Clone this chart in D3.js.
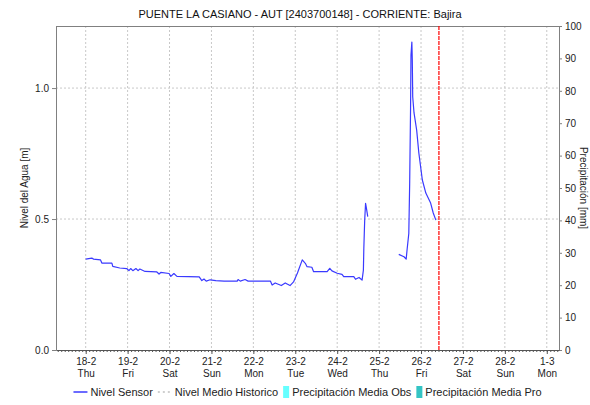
<!DOCTYPE html>
<html>
<head>
<meta charset="utf-8">
<script src="https://cdn.jsdelivr.net/npm/d3@7"></script>
<style>
  body { margin: 0; background: #fff; }
  text { font-family: "Liberation Sans", Arial, sans-serif; }
</style>
</head>
<body>
<div id="chart"></div>
<script>
// ---------------------------------------------------------------------------
// Data
// ---------------------------------------------------------------------------

const chartTitle = "PUENTE LA CASIANO - AUT [2403700148] - CORRIENTE: Bajira";

const times = [
  "2021-02-18 00:00", "2021-02-18 03:30", "2021-02-18 04:30", "2021-02-18 08:30",
  "2021-02-18 09:15", "2021-02-18 15:00", "2021-02-18 15:30", "2021-02-18 19:30",
  "2021-02-18 23:30", "2021-02-19 00:45", "2021-02-19 01:45", "2021-02-19 03:00",
  "2021-02-19 04:45", "2021-02-19 06:00", "2021-02-19 07:00", "2021-02-19 10:00",
  "2021-02-19 16:45", "2021-02-19 18:00", "2021-02-19 19:00", "2021-02-19 23:45",
  "2021-02-20 00:45", "2021-02-20 02:30", "2021-02-20 04:15", "2021-02-20 17:00",
  "2021-02-20 18:30", "2021-02-20 19:45", "2021-02-20 21:00", "2021-02-20 23:15",
  "2021-02-21 02:30", "2021-02-21 07:15", "2021-02-21 14:45", "2021-02-21 15:15",
  "2021-02-21 16:30", "2021-02-21 19:15", "2021-02-21 21:00", "2021-02-22 09:45",
  "2021-02-22 10:45", "2021-02-22 12:30", "2021-02-22 16:00", "2021-02-22 18:15",
  "2021-02-22 21:00", "2021-02-22 23:00", "2021-02-23 01:15", "2021-02-23 04:00",
  "2021-02-23 05:45", "2021-02-23 06:45", "2021-02-23 09:30", "2021-02-23 10:30",
  "2021-02-23 18:15", "2021-02-23 19:45", "2021-02-23 21:00", "2021-02-24 00:00",
  "2021-02-24 02:45", "2021-02-24 03:45", "2021-02-24 09:30", "2021-02-24 10:30",
  "2021-02-24 12:30", "2021-02-24 14:15", "2021-02-24 15:00", "2021-02-24 15:15",
  "2021-02-24 15:45", "2021-02-24 16:15", "2021-02-24 16:45", "2021-02-24 17:30",
  "2021-02-25 00:00",
  "2021-02-25 11:15", "2021-02-25 14:15", "2021-02-25 15:30", "2021-02-25 16:00",
  "2021-02-25 17:00", "2021-02-25 17:30", "2021-02-25 18:00", "2021-02-25 18:15",
  "2021-02-25 18:45", "2021-02-25 19:00", "2021-02-25 19:15", "2021-02-25 20:00",
  "2021-02-25 21:30", "2021-02-25 22:45", "2021-02-26 00:45", "2021-02-26 02:45",
  "2021-02-26 05:30", "2021-02-26 07:00", "2021-02-26 08:30"
];

// water level [m]; null = no reading (gap in the line)
const levels = [
  0.347, 0.351, 0.347, 0.344, 0.332, 0.332, 0.319, 0.313,
  0.311, 0.303, 0.311, 0.303, 0.311, 0.303, 0.309, 0.300,
  0.298, 0.290, 0.296, 0.292, 0.281, 0.292, 0.281, 0.279,
  0.265, 0.271, 0.263, 0.268, 0.265, 0.263, 0.263, 0.269,
  0.263, 0.269, 0.263, 0.263, 0.248, 0.256, 0.246, 0.256,
  0.246, 0.260, 0.294, 0.344, 0.331, 0.318, 0.316, 0.299,
  0.299, 0.312, 0.302, 0.293, 0.289, 0.280, 0.280, 0.270,
  0.277, 0.267, 0.305, 0.388, 0.496, 0.560, 0.541, 0.509,
  null,
  0.365, 0.356, 0.347, 0.382, 0.445, 0.636, 0.916, 1.126,
  1.176, 1.107, 0.966, 0.905, 0.840, 0.752, 0.649, 0.599,
  0.561, 0.523, 0.496
];

const timeDomain = ["2021-02-17 07:00", "2021-03-01 07:00"];
const levelDomain = [0, 1.237];
const rainDomain = [0, 100];

const dayTicks = [
  "2021-02-18", "2021-02-19", "2021-02-20", "2021-02-21", "2021-02-22", "2021-02-23",
  "2021-02-24", "2021-02-25", "2021-02-26", "2021-02-27", "2021-02-28", "2021-03-01"
];
const levelTicks = [0, 0.5, 1.0];
const rainTicks = [0, 10, 20, 30, 40, 50, 60, 70, 80, 90, 100];

const nowMark = "2021-02-26 10:15";

const leftLabel = "Nivel del Agua [m]";
const rightLabel = "Precipitación [mm]";

const legendNames = ["Nivel Sensor", "Nivel Medio Historico", "Precipitación Media Obs", "Precipitación Media Pro"];
const legendKinds = ["line", "dash", "box", "box"];
const legendColors = ["#3a3aff", "#c0c0c0", "#66ffff", "#33c4c4"];

// ---------------------------------------------------------------------------
// Layout
// ---------------------------------------------------------------------------

const W = 590, H = 405;
const margin = {top: 26, right: 31, bottom: 55, left: 56};
const width = W - margin.left - margin.right;
const height = H - margin.top - margin.bottom;

const parseTime = d3.timeParse("%Y-%m-%d %H:%M");
const parseDay = d3.timeParse("%Y-%m-%d");

const series = times.map((t, i) => ({t: parseTime(t), v: levels[i]}));

const x = d3.scaleTime().domain(timeDomain.map(parseTime)).range([0, width]);
const y = d3.scaleLinear().domain(levelDomain).range([height, 0]);
const y2 = d3.scaleLinear().domain(rainDomain).range([height, 0]);

const svg = d3.select("#chart").append("svg")
  .attr("width", W).attr("height", H);

svg.append("text")
  .attr("x", 300).attr("y", 18)
  .attr("text-anchor", "middle")
  .attr("font-size", 11)
  .attr("fill", "#111")
  .text(chartTitle);

const g = svg.append("g")
  .attr("transform", "translate(" + margin.left + "," + margin.top + ")");

const gridColor = "#c8c8c8";
const axisColor = "#808080";

// grid
g.append("g").selectAll("line")
  .data(dayTicks.map(parseDay))
  .join("line")
  .attr("x1", d => x(d)).attr("x2", d => x(d))
  .attr("y1", 0).attr("y2", height)
  .attr("stroke", gridColor).attr("stroke-dasharray", "2,2");

g.append("g").selectAll("line")
  .data(levelTicks.filter(d => d > 0))
  .join("line")
  .attr("x1", 0).attr("x2", width)
  .attr("y1", d => y(d)).attr("y2", d => y(d))
  .attr("stroke", gridColor).attr("stroke-dasharray", "2,2");

// frame top
g.append("line")
  .attr("x1", 0).attr("x2", width).attr("y1", 0.5).attr("y2", 0.5)
  .attr("stroke", axisColor);

// left axis
const leftAxis = g.append("g")
  .call(d3.axisLeft(y).tickValues(levelTicks).tickFormat(d3.format(".1f")).tickSize(4).tickSizeOuter(0));
leftAxis.select(".domain").attr("stroke", axisColor);
leftAxis.selectAll(".tick line").attr("stroke", axisColor);
leftAxis.selectAll("text").attr("font-size", 10).attr("fill", "#222")
  .attr("font-family", "Liberation Sans, Arial, sans-serif");

// right axis
const rightAxis = g.append("g")
  .attr("transform", "translate(" + width + ",0)")
  .call(d3.axisRight(y2).tickValues(rainTicks).tickSize(3).tickSizeOuter(0));
rightAxis.select(".domain").attr("stroke", axisColor);
rightAxis.selectAll(".tick line").attr("stroke", axisColor);
rightAxis.selectAll("text").attr("font-size", 10).attr("fill", "#222")
  .attr("font-family", "Liberation Sans, Arial, sans-serif");

// bottom axis: minor ticks every 2 hours, then day ticks with two-line labels
const minor = g.append("g")
  .attr("transform", "translate(0," + height + ")")
  .call(d3.axisBottom(x).ticks(d3.timeHour.every(2)).tickSize(2).tickFormat(() => null).tickSizeOuter(0));
minor.select(".domain").attr("stroke", "#555");
minor.selectAll(".tick line").attr("stroke", "#555");

const fmtDay = d3.timeFormat("%-d-%-m");
const fmtWeek = d3.timeFormat("%a");
const bottomAxis = g.append("g")
  .attr("transform", "translate(0," + height + ")")
  .call(d3.axisBottom(x).tickValues(dayTicks.map(parseDay)).tickSize(4).tickFormat(() => "").tickSizeOuter(0));
bottomAxis.select(".domain").remove();
bottomAxis.selectAll(".tick line").attr("stroke", "#555");
bottomAxis.selectAll(".tick text").each(function(d) {
  const t = d3.select(this).attr("y", 8).attr("font-size", 10).attr("fill", "#222")
    .attr("font-family", "Liberation Sans, Arial, sans-serif");
  t.append("tspan").attr("x", 0).attr("dy", "0.71em").text(fmtDay(d));
  t.append("tspan").attr("x", 0).attr("dy", "1.15em").text(fmtWeek(d));
});

// axis titles
g.append("text")
  .attr("transform", "translate(-28," + (height / 2) + ") rotate(-90)")
  .attr("text-anchor", "middle").attr("font-size", 10).attr("fill", "#222")
  .text(leftLabel);

// right title sits against the page edge, reading top to bottom
g.append("text")
  .attr("transform", "translate(" + (width + 21) + "," + (height / 2) + ") rotate(90)")
  .attr("text-anchor", "middle").attr("font-size", 10).attr("fill", "#222")
  .text(rightLabel);

// sensor level line
const line = d3.line()
  .defined(d => d.v !== null)
  .x(d => x(d.t))
  .y(d => y(d.v));

g.append("path")
  .datum(series)
  .attr("fill", "none")
  .attr("stroke", legendColors[0])
  .attr("stroke-width", 1.2)
  .attr("stroke-linejoin", "round")
  .attr("d", line);

// current time marker
const nowX = x(parseTime(nowMark));
g.append("line")
  .attr("x1", nowX).attr("x2", nowX)
  .attr("y1", 0).attr("y2", height)
  .attr("stroke", "#ff0000").attr("stroke-width", 1.2)
  .attr("stroke-dasharray", "4,1");

// legend
const legend = svg.append("g");
let lx = 0;
legendNames.forEach((name, i) => {
  const it = legend.append("g");
  const kind = legendKinds[i];
  let sw;
  if (kind === "box") {
    it.append("rect").attr("x", 0).attr("y", -6).attr("width", 6).attr("height", 12)
      .attr("fill", legendColors[i]);
    sw = 6;
  } else {
    it.append("line").attr("x1", 0).attr("x2", 14).attr("y1", 0).attr("y2", 0)
      .attr("stroke", legendColors[i]).attr("stroke-width", 1.5)
      .attr("stroke-dasharray", kind === "dash" ? "2,3" : null);
    sw = 14;
  }
  const txt = it.append("text").attr("x", sw + 3).attr("y", 4)
    .attr("font-size", 11).attr("fill", "#222").text(name);
  const w = sw + 3 + txt.node().getComputedTextLength();
  it.attr("transform", "translate(" + lx + ",0)");
  lx += w + 5;
});
const legendW = lx - 5;
legend.attr("transform", "translate(" + (margin.left + width / 2 - legendW / 2) + ",392)");
</script>
</body>
</html>
